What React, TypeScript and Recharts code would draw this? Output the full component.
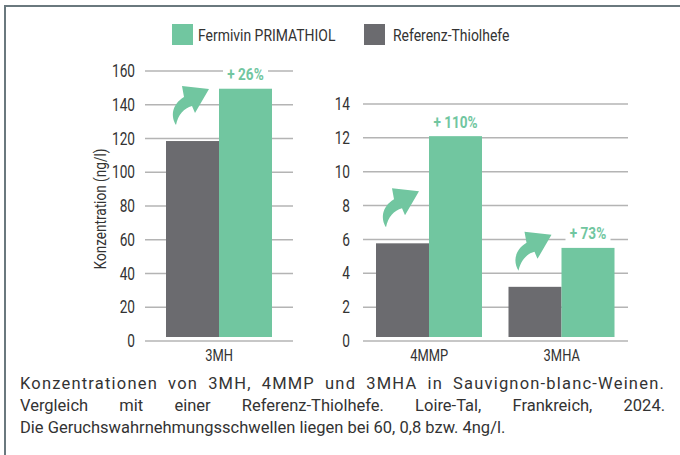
import React from 'react';
import { BarChart, Bar, XAxis, YAxis, CartesianGrid, LabelList } from 'recharts';

const leftCategories = ['3MH'];
const rightCategories = ['4MMP', '3MHA'];
const referenzLeft = [118.5];
const primathiolLeft = [149.5];
const increaseLeft = ['+ 26%'];
const referenzRight = [5.77, 3.2];
const primathiolRight = [12.1, 5.5];
const increaseRight = ['+ 110%', '+ 73%'];
const leftTicks = [0, 20, 40, 60, 80, 100, 120, 140, 160];
const rightTicks = [0, 2, 4, 6, 8, 10, 12, 14];
const seriesNames = ['Fermivin PRIMATHIOL', 'Referenz-Thiolhefe'];
const yAxisTitle = 'Konzentration (ng/l)';
const captionLines = [
  'Konzentrationen von 3MH, 4MMP und 3MHA in Sauvignon-blanc-Weinen.',
  'Vergleich mit einer Referenz-Thiolhefe. Loire-Tal, Frankreich, 2024.',
  'Die Geruchswahrnehmungsschwellen liegen bei 60, 0,8 bzw. 4ng/l.',
];

const GREEN = '#71c6a0';
const GRAY = '#6b6b6f';
const GRID = '#b4b4b4';
const TEXT = '#333333';
const COND = 'Roboto, "Noto Sans", sans-serif';
const CAPTION_FONT = 'Roboto, "Noto Sans", sans-serif';
const SQUEEZE = 0.76;

const leftData = leftCategories.map((name, i) => ({
  name,
  ref: referenzLeft[i],
  prim: primathiolLeft[i],
  inc: increaseLeft[i],
}));
const rightData = rightCategories.map((name, i) => ({
  name,
  ref: referenzRight[i],
  prim: primathiolRight[i],
  inc: increaseRight[i],
}));

const TrimmedBar = (props: any) => {
  const { x, y, width, height, fill } = props;
  const h = Math.max(0, height - 4);
  return <rect x={x} y={y} width={width} height={h} fill={fill} />;
};

const getBox = (props: any) => {
  const vb = props.viewBox || {};
  return {
    x: props.x ?? vb.x,
    y: props.y ?? vb.y,
    width: props.width ?? vb.width,
  };
};

const ArrowMark = (props: any) => {
  const { x, y } = getBox(props);
  if (x == null || y == null) return null;
  const tx = x + 10;
  const ty = y - 16;
  return (
    <path
      transform={`translate(${tx},${ty})`}
      d="M0,0 C-5,-8 -5,-20 8,-28 L6,-39 L33,-36 L19,-12 L16,-19 C8,-17 2,-10 0,0 Z"
      fill={GREEN}
    />
  );
};

const IncreaseLabel = (props: any) => {
  const { x, y, width } = getBox(props);
  const value = props.value;
  if (x == null || y == null) return null;
  const cx = x + width / 2;
  const cy = y - 14;
  const w = String(value).length * 7.4 + 8;
  return (
    <g>
      <rect x={cx - w / 2} y={cy - 9} width={w} height={18} fill="#ffffff" />
      <text
        transform={`translate(${cx},${cy}) scale(0.8,1)`}
        textAnchor="middle"
        dominantBaseline="central"
        fill={GREEN}
        fontWeight={700}
        fontSize={17}
        fontFamily={COND}
      >
        {value}
      </text>
    </g>
  );
};

const YTitle = (props: any) => {
  const vb = props.viewBox;
  if (!vb) return null;
  const x = vb.x + 15;
  const y = vb.y + vb.height / 2 + 3;
  return (
    <text
      transform={`translate(${x},${y}) rotate(-90) scale(0.8,1)`}
      textAnchor="middle"
      dominantBaseline="central"
      fill={TEXT}
      fontSize={17}
      fontFamily={COND}
    >
      {yAxisTitle}
    </text>
  );
};

const YTick = (props: any) => {
  const { x, y, payload } = props;
  return (
    <text
      transform={`translate(${x},${y}) scale(${SQUEEZE},1)`}
      textAnchor="end"
      dominantBaseline="central"
      fill={TEXT}
      fontSize={18}
      fontFamily={COND}
    >
      {payload.value}
    </text>
  );
};

const XTick = (props: any) => {
  const { x, y, payload } = props;
  return (
    <text
      transform={`translate(${x},${y}) scale(${SQUEEZE},1)`}
      textAnchor="middle"
      dy="0.71em"
      fill={TEXT}
      fontSize={17}
      fontFamily={COND}
    >
      {payload.value}
    </text>
  );
};

const Bars = () => [
  <Bar key="ref" dataKey="ref" fill={GRAY} barSize={53} isAnimationActive={false} shape={TrimmedBar}>
    <LabelList dataKey="ref" content={ArrowMark} />
  </Bar>,
  <Bar key="prim" dataKey="prim" fill={GREEN} barSize={53} isAnimationActive={false} shape={TrimmedBar}>
    <LabelList dataKey="inc" content={IncreaseLabel} />
  </Bar>,
];

const legendText = (left: number, text: string) => (
  <div
    style={{
      position: 'absolute',
      left,
      top: 25,
      height: 21,
      lineHeight: '21px',
      fontSize: 17,
      fontFamily: COND,
      color: TEXT,
      whiteSpace: 'nowrap',
      transform: 'scaleX(0.82)',
      transformOrigin: 'left center',
    }}
  >
    {text}
  </div>
);

export default function App() {
  return (
    <div
      style={{
        position: 'absolute',
        left: 0,
        top: 0,
        width: 680,
        height: 455,
        background: '#ffffff',
        overflow: 'hidden',
      }}
    >
      <div
        style={{
          position: 'absolute',
          left: 4,
          top: 5,
          width: 800,
          height: 600,
          borderTop: '2px solid #6a787e',
          borderLeft: '2px solid #6a787e',
        }}
      />
      <div style={{ position: 'absolute', left: 172, top: 24, width: 21, height: 21, background: GREEN }} />
      {legendText(198, seriesNames[0])}
      <div style={{ position: 'absolute', left: 364, top: 24, width: 21, height: 21, background: GRAY }} />
      {legendText(393, seriesNames[1])}

      <div style={{ position: 'absolute', left: 0, top: 0 }}>
        <BarChart
          width={300}
          height={380}
          data={leftData}
          margin={{ top: 71, right: 7, bottom: 9, left: 85 }}
          barGap={0}
        >
          <CartesianGrid vertical={false} stroke={GRID} strokeWidth={1.5} />
          <XAxis
            dataKey="name"
            axisLine={false}
            tickLine={false}
            tickSize={0}
            tickMargin={8}
            height={30}
            tick={<XTick />}
          />
          <YAxis
            domain={[0, 160]}
            ticks={leftTicks}
            interval={0}
            axisLine={false}
            tickLine={false}
            tickSize={0}
            tickMargin={10}
            width={60}
            tick={<YTick />}
            label={<YTitle />}
          />
          {Bars()}
        </BarChart>
      </div>

      <div style={{ position: 'absolute', left: 300, top: 0 }}>
        <BarChart
          width={340}
          height={380}
          data={rightData}
          margin={{ top: 104, right: 12, bottom: 9, left: 3 }}
          barGap={0}
        >
          <CartesianGrid vertical={false} stroke={GRID} strokeWidth={1.5} />
          <XAxis
            dataKey="name"
            axisLine={false}
            tickLine={false}
            tickSize={0}
            tickMargin={8}
            height={30}
            tick={<XTick />}
          />
          <YAxis
            domain={[0, 14]}
            ticks={rightTicks}
            interval={0}
            axisLine={false}
            tickLine={false}
            tickSize={0}
            tickMargin={13}
            width={60}
            tick={<YTick />}
          />
          {Bars()}
        </BarChart>
      </div>

      <div
        style={{
          position: 'absolute',
          left: 20,
          top: 373,
          width: 645,
          fontFamily: CAPTION_FONT,
          fontSize: 16.5,
          color: TEXT,
        }}
      >
        {captionLines.map((line, i) => (
          <div
            key={i}
            style={{
              height: 22,
              lineHeight: '22px',
              whiteSpace: 'nowrap',
              letterSpacing: i === 0 ? '1.2px' : '0px',
              textAlign: 'justify',
              textAlignLast: i < captionLines.length - 1 ? 'justify' : 'left',
            }}
          >
            {line}
          </div>
        ))}
      </div>
    </div>
  );
}
